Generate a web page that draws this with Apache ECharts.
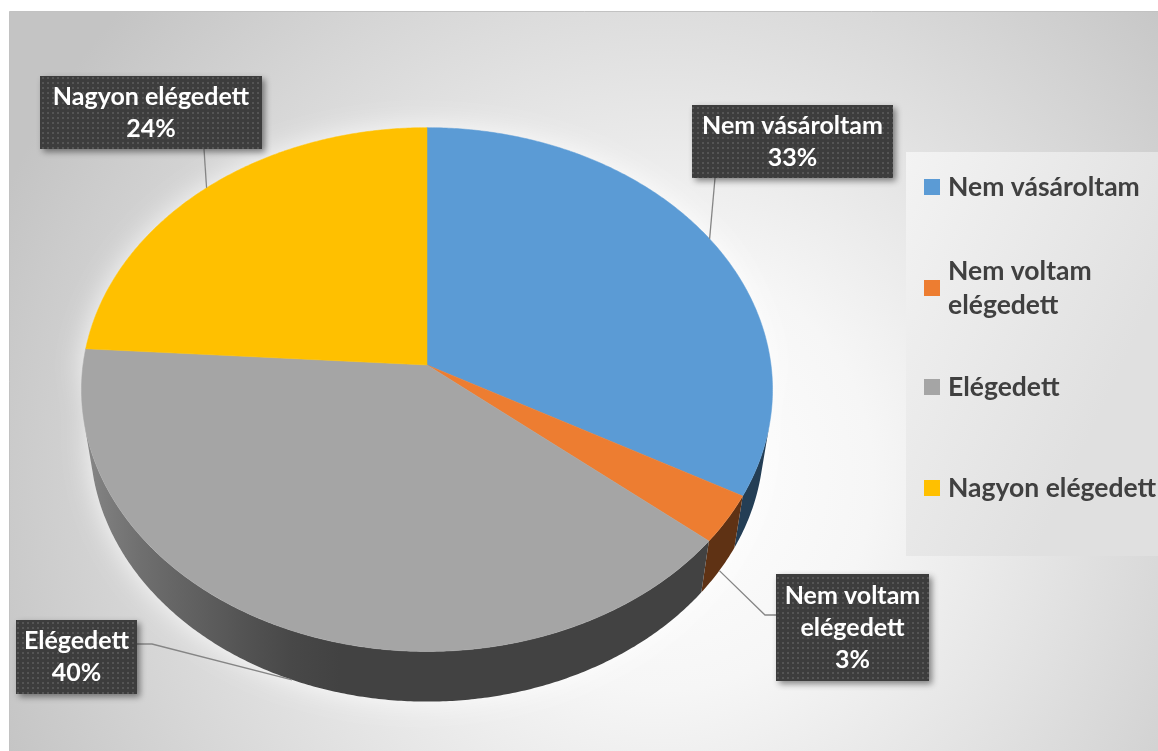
<!DOCTYPE html>
<html>
<head>
<meta charset="utf-8">
<script src="https://cdn.jsdelivr.net/npm/echarts@6/dist/echarts.min.js"></script>
<style>
  html, body { margin: 0; padding: 0; background: #ffffff; }
  #chart { width: 1158px; height: 751px; }
</style>
</head>
<body>
<div id="chart"></div>
<script>
// Survey answers and their shares (percent)
const categories = ['Nem vásároltam', 'Nem voltam elégedett', 'Elégedett', 'Nagyon elégedett'];
const shares = [33, 3, 40, 24];
const wrappedNames = ['Nem vásároltam', 'Nem voltam\nelégedett', 'Elégedett', 'Nagyon elégedett'];
const colors = ['#5B9BD5', '#ED7D31', '#A5A5A5', '#FFC000'];

// Perspective view of the pie disc
const VIEW = { cx: 427, cy: 365, k: 344, dist: 7, tilt: 49 * Math.PI / 180, thick: 0.24 };
const TAU = Math.PI * 2;
const SP = Math.sin(VIEW.tilt), CP = Math.cos(VIEW.tilt);
// angle measured clockwise from the back of the disc (12 o'clock)
function project(t, z) {
  const x = Math.sin(t), y = Math.cos(t);
  const up = y * SP + z * CP;
  const dep = y * CP - z * SP;
  const s = VIEW.dist / (VIEW.dist + dep);
  return [VIEW.cx + VIEW.k * x * s, VIEW.cy - VIEW.k * up * s];
}
// side wall faces the camera only on the front part of the rim
const T_VIS = Math.acos(-1 / (VIEW.dist * CP));

// Data label boxes and where their leader lines attach
const labelLayout = [
  { x: 692, y: 105, w: 201, h: 73, side: 'bottom', at: 23, rim: 0 },
  { x: 776, y: 574, w: 153, h: 107, side: 'left', at: 41, stub: 11, rim: 1 },
  { x: 16, y: 620, w: 121, h: 74, side: 'right', at: 24, stub: 15, rim: 1 },
  { x: 40, y: 76, w: 222, h: 73, side: 'bottom', at: 164, rim: 0 }
];

// dotted texture for the label boxes
const dotTile = document.createElement('canvas');
dotTile.width = 5; dotTile.height = 5;
(function () {
  const c = dotTile.getContext('2d');
  c.fillStyle = '#3d3d3d'; c.fillRect(0, 0, 5, 5);
  c.fillStyle = '#555555'; c.fillRect(2, 2, 2, 2);
})();

function hexToRgb(h) {
  const n = parseInt(h.slice(1), 16);
  return [(n >> 16) & 255, (n >> 8) & 255, n & 255];
}
function shade(hex, f) {
  const c = hexToRgb(hex).map(v => Math.max(0, Math.min(255, Math.round(v * f))));
  return 'rgb(' + c.join(',') + ')';
}
// light coming from the left side
function wallFactor(t) {
  const d = -Math.sin(t) + 0.3 * Math.cos(t);
  return 0.4 + 0.45 * Math.max(0, d);
}

const total = shares.reduce((a, b) => a + b, 0);

function renderSlice(params, api) {
  const i = params.seriesIndex;
  const value = api.value(0);
  const before = shares.slice(0, i).reduce((a, b) => a + b, 0);
  const a0 = before / total * TAU;
  const a1 = (before + value) / total * TAU;
  const color = colors[i];
  const children = [];
  const h = -VIEW.thick;
  const step = Math.PI / 360;

  // side wall, one outline shaded by a horizontal gradient
  const w0 = Math.max(a0, T_VIS), w1 = Math.min(a1, TAU - T_VIS);
  if (w1 > w0) {
    const n = Math.max(2, Math.ceil((w1 - w0) / step));
    const top = [], bottom = [];
    for (let j = 0; j <= n; j++) {
      const t = w0 + (w1 - w0) * j / n;
      top.push(project(t, 0));
      bottom.push(project(t, h));
    }
    const wall = top.concat(bottom.reverse());
    const xs = wall.map(p => p[0]);
    const xl = Math.min.apply(null, xs), xr = Math.max.apply(null, xs);
    const stops = [];
    const k = 16;
    for (let j = 0; j <= k; j++) {
      const t = w0 + (w1 - w0) * j / k;
      const px = project(t, h / 2)[0];
      const off = xr > xl ? (px - xl) / (xr - xl) : 0;
      stops.push({ offset: Math.max(0, Math.min(1, off)), color: shade(color, wallFactor(t)) });
    }
    stops.sort((p, q) => p.offset - q.offset);
    children.push({
      type: 'polygon',
      shape: { points: wall },
      style: {
        fill: { type: 'linear', x: xl, y: 0, x2: xr, y2: 0, global: true, colorStops: stops }
      }
    });
  }

  // top face
  const pts = [[VIEW.cx, VIEW.cy]];
  const m = Math.max(2, Math.ceil((a1 - a0) / step));
  for (let j = 0; j <= m; j++) pts.push(project(a0 + (a1 - a0) * j / m, 0));
  children.push({
    type: 'polygon',
    shape: { points: pts },
    style: { fill: color, stroke: color, lineWidth: 0.5 }
  });

  // data label with leader line
  const L = labelLayout[i];
  const mid = (a0 + a1) / 2;
  const anchor = project(mid, L.rim ? h : 0);
  let line;
  if (L.side === 'bottom') {
    line = [anchor, [L.x + L.at, L.y + L.h]];
  } else if (L.side === 'left') {
    const yy = L.y + L.at;
    line = [anchor, [L.x - L.stub, yy], [L.x, yy]];
  } else {
    const yy = L.y + L.at;
    line = [anchor, [L.x + L.w + L.stub, yy], [L.x + L.w, yy]];
  }
  children.push({
    type: 'polyline', z2: 100,
    shape: { points: line },
    style: { stroke: '#858585', lineWidth: 1.3, fill: null }
  });
  children.push({
    type: 'rect', z2: 101,
    shape: { x: L.x, y: L.y, width: L.w, height: L.h },
    style: {
      fill: { image: dotTile, repeat: 'repeat' },
      shadowBlur: 6, shadowOffsetX: 3, shadowOffsetY: 3, shadowColor: 'rgba(0,0,0,0.45)'
    }
  });
  children.push({
    type: 'text', z2: 102,
    style: {
      text: wrappedNames[i] + '\n' + value + '%',
      x: L.x + L.w / 2, y: L.y + L.h / 2,
      align: 'center', verticalAlign: 'middle',
      font: 'bold 25px Lato', lineHeight: 32, fill: '#ffffff'
    }
  });
  return { type: 'group', children: children };
}

// silhouette of the whole disc, used for the soft halo behind it
function outline() {
  const pts = [];
  for (let d = -90; d <= 90; d += 2) pts.push(project(d * Math.PI / 180, 0));
  for (let d = 90; d <= 270; d += 2) pts.push(project(d * Math.PI / 180, -VIEW.thick));
  return pts;
}

const legendTops = [170, 237, 370, 471];
const legendLine = 34;

const option = {
  animation: false,
  color: colors,
  graphic: [
    {
      type: 'rect', silent: true, z: -10,
      shape: { x: 9.5, y: 11.5, width: 1160, height: 750 },
      style: {
        fill: {
          type: 'radial', x: 0.56, y: 0.62, r: 0.95,
          colorStops: [
            { offset: 0, color: '#ffffff' },
            { offset: 0.3, color: '#f6f6f6' },
            { offset: 0.75, color: '#d6d6d6' },
            { offset: 1, color: '#c4c4c4' }
          ]
        },
        stroke: '#c2c2c2', lineWidth: 1
      }
    },
    {
      type: 'rect', silent: true, z: -9,
      shape: { x: 906, y: 152, width: 260, height: 404 },
      style: {
        fill: {
          type: 'linear', x: 0, y: 0, x2: 1, y2: 0.3,
          colorStops: [
            { offset: 0, color: '#f3f3f3' },
            { offset: 1, color: '#e0e0e0' }
          ]
        }
      }
    },
    {
      type: 'polygon', silent: true, z: -8,
      shape: { points: outline() },
      style: { fill: 'rgba(255,255,255,0.9)', shadowBlur: 28, shadowColor: 'rgba(255,255,255,0.95)' }
    }
  ],
  legend: categories.map((c, i) => ({
    data: [c],
    left: 924,
    top: legendTops[i],
    padding: 0,
    orient: 'vertical',
    icon: 'rect',
    itemWidth: 16,
    itemHeight: 16,
    selectedMode: false,
    formatter: () => wrappedNames[i],
    textStyle: {
      fontFamily: 'Lato', fontWeight: 'bold', fontSize: 26.5, color: '#404040',
      lineHeight: legendLine,
      padding: i === 1 ? [legendLine, 0, 0, 3] : [0, 0, 0, 3]
    }
  })),
  series: categories.map((c, i) => ({
    type: 'custom',
    name: c,
    coordinateSystem: 'none',
    renderItem: renderSlice,
    data: [[shares[i]]],
    silent: true
  }))
};

const chart = echarts.init(document.getElementById('chart'), null, { renderer: 'canvas' });
chart.setOption(option);
</script>
</body>
</html>
